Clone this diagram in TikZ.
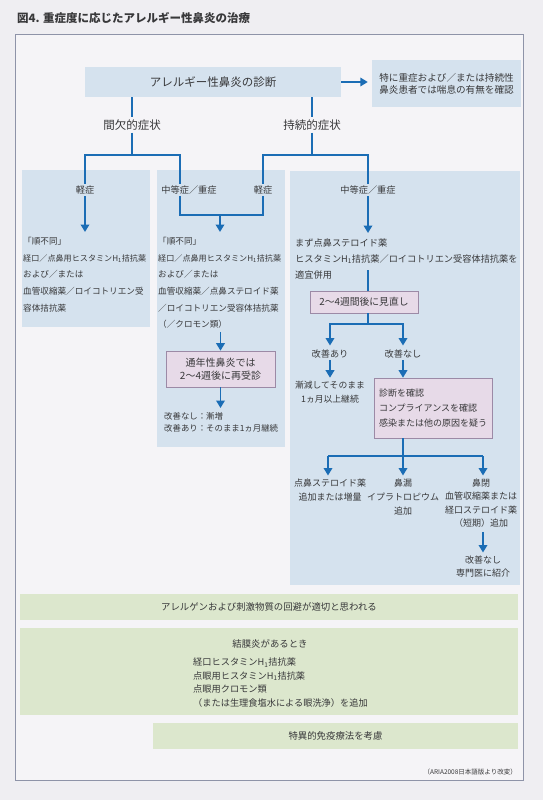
\documentclass[tikz,border=0pt]{standalone}
\usepackage{fontspec}
\setmainfont{Noto Sans CJK JP}
\usetikzlibrary{arrows.meta}
\definecolor{lineblue}{HTML}{1B6DB5}
\definecolor{colfill}{HTML}{D5E2EE}
\definecolor{pinkfill}{HTML}{E7DAE8}
\definecolor{pinkline}{HTML}{9C8AA6}
\definecolor{greenfill}{HTML}{DCE7CD}
\definecolor{ink}{HTML}{38383A}
\definecolor{paper}{HTML}{EFEEF2}
\definecolor{panel}{HTML}{F5F4F7}
\definecolor{framecol}{HTML}{8E93A8}
\begin{document}
\begin{tikzpicture}[x=1pt,y=-1pt,
	link/.style={draw=lineblue,line width=1.8pt},
	arr/.style={link,-{Triangle[width=8.5pt,length=7.5pt]}},
	lbl/.style={text=ink,inner sep=2pt,font=\fontsize{9.2}{14}\selectfont},
	bigl/.style={text=ink,inner sep=2pt,font=\fontsize{11.5}{13}\selectfont},
	listtxt/.style={text=ink,inner sep=0pt,anchor=base west,align=left},
	pinkbox/.style={draw=pinkline,fill=pinkfill,line width=0.6pt,text=ink,inner sep=0pt},
	bluebox/.style={fill=colfill,text=ink,inner sep=0pt},
	greenbox/.style={fill=greenfill,text=ink,inner sep=0pt,minimum height=26pt,font=\fontsize{9.4}{13.7}\selectfont}]
	\useasboundingbox (0,0) rectangle (543,800);
	\fill[paper] (0,0) rectangle (543,800);
	\filldraw[fill=panel,draw=framecol,line width=0.8pt] (15,34) rectangle (523,780);
	\node[anchor=west,inner sep=0pt,font=\fontsize{11.5}{13}\selectfont\bfseries,text=ink] (title) at (17,18) {図4. 重症度に応じたアレルギー性鼻炎の治療};
	\fill[colfill] (22,170) rectangle (150,327);
	\fill[colfill] (157,170) rectangle (285,447);
	\fill[colfill] (290,171) rectangle (520,585);
	\node[bluebox,minimum width=256pt,minimum height=30pt,font=\fontsize{11.5}{13}\selectfont] (diag) at (213,82) {アレルギー性鼻炎の診断};
	\node[bluebox,minimum width=149pt,minimum height=47pt,align=left,font=\fontsize{9.6}{12}\selectfont] (asthma) at (446.5,83.5) {特に重症および／または持続性\\鼻炎患者では喘息の有無を確認};
	\draw[arr,shorten >=4pt] (diag.east) -- (diag.east -| asthma.west);
	\node[bigl] (inter) at (132,125) {間欠的症状};
	\node[bigl] (persist) at (312,125) {持続的症状};
	\draw[link] (diag.south -| inter) -- (inter);
	\draw[link] (diag.south -| persist) -- (persist);
	\coordinate (iL) at (85,155);
	\coordinate (iR) at (180,155);
	\coordinate (pL) at (263,155);
	\coordinate (pR) at (368,155);
	\draw[link] (inter) -- (inter |- iL);
	\draw[link] (persist) -- (persist |- pL);
	\node[lbl] (mildA) at (85,190) {軽症};
	\node[lbl] (modA) at (189,190) {中等症／重症};
	\node[lbl] (mildB) at (263,190) {軽症};
	\node[lbl] (modB) at (368,190) {中等症／重症};
	\draw[link] (mildA) -- (iL) -- (iR) -- (iR |- modA.north);
	\draw[link] (mildB) -- (pL) -- (pR) -- (modB);
	\coordinate (mA) at (85,232);
	\draw[arr] (mildA) -- (mA);
	\coordinate (mj) at (220,215);
	\draw[link] (iR |- modA.south) -- (iR |- mj) -- (mildB |- mj) -- (mildB);
	\coordinate (mjEnd) at (220,232);
	\draw[arr] (mj) -- (mjEnd);
	\node[listtxt,font=\fontsize{8.6}{16.7}\selectfont] (leftlist) at (23,311.1) {「順不同」\\{\fontsize{8.1}{16.7}\selectfont 経口／点鼻用ヒスタミンH\textsubscript{1}拮抗薬}\\および／または\\血管収縮薬／ロイコトリエン受\\容体拮抗薬};
	\node[listtxt,font=\fontsize{8.6}{16.7}\selectfont] (midlist) at (158,327.8) {「順不同」\\{\fontsize{8.1}{16.7}\selectfont 経口／点鼻用ヒスタミンH\textsubscript{1}拮抗薬}\\および／または\\血管収縮薬／点鼻ステロイド薬\\／ロイコトリエン受容体拮抗薬\\（／クロモン類）};
	\node[pinkbox,minimum width=109pt,minimum height=36pt,align=center,font=\fontsize{10}{13}\selectfont] (revisit) at (220.5,369) {通年性鼻炎では\\2～4週後に再受診};
	\draw[arr,shorten <=3pt] (revisit |- midlist.south) -- (revisit);
	\coordinate (revEnd) at (220.5,408);
	\draw[arr] (revisit) -- (revEnd);
	\node[listtxt,font=\fontsize{8.4}{12}\selectfont] (midout) at (164,431.2) {改善なし：漸増\\改善あり：そのまま1ヵ月継続};
	\coordinate (rA) at (368,233);
	\draw[arr] (modB) -- (rA);
	\node[listtxt,font=\fontsize{9.2}{16}\selectfont] (rightlist) at (295,278.4) {まず点鼻ステロイド薬\\ヒスタミンH\textsubscript{1}拮抗薬／ロイコトリエン受容体拮抗薬を\\適宜併用};
	\node[pinkbox,minimum width=108pt,minimum height=22pt,font=\fontsize{9.8}{12}\selectfont] (review) at (364,302) {2～4週間後に見直し};
	\coordinate (rv) at (368,270);
	\draw[link] (rv) -- (rv |- review.north);
	\coordinate (rj) at (368,324);
	\draw[link] (rj |- review.south) -- (rj);
	\node[lbl] (better) at (330,354) {改善あり};
	\node[lbl] (nobetter) at (403,354) {改善なし};
	\draw[arr,shorten >=2pt] (rj) -| (better);
	\draw[arr,shorten >=2pt] (rj) -| (nobetter);
	\node[lbl,align=center,font=\fontsize{8.8}{14}\selectfont] (taper) at (330,392) {漸減してそのまま\\1ヵ月以上継続};
	\draw[arr,shorten >=1pt] (better) -- (taper);
	\node[pinkbox,minimum width=118pt,minimum height=60pt,align=left,font=\fontsize{9}{15}\selectfont] (recheck) at (433,408) {診断を確認\\コンプライアンスを確認\\感染または他の原因を疑う};
	\draw[arr] (nobetter) -- (nobetter |- recheck.north);
	\coordinate (sL) at (328,456);
	\coordinate (sj) at (403,456);
	\coordinate (sR) at (483,456);
	\draw[link] (recheck.south -| sj) -- (sj);
	\draw[link] (sL) -- (sR);
	\node[lbl,anchor=base,align=center,font=\fontsize{9}{14}\selectfont] (addster) at (330,500.3) {点鼻ステロイド薬\\追加または増量};
	\node[lbl,anchor=base,align=center,font=\fontsize{9}{14}\selectfont] (rhino) at (403,514.3) {鼻漏\\イプラトロピウム\\追加};
	\node[lbl,anchor=base,align=center,font=\fontsize{9}{13.5}\selectfont] (block) at (481,526.8) {鼻閉\\血管収縮薬または\\経口ステロイド薬\\（短期）追加};
	\draw[arr,shorten >=1pt] (sL) -- (sL |- addster.north);
	\draw[arr,shorten >=1pt] (sj) -- (sj |- rhino.north);
	\draw[arr,shorten >=1pt] (sR) -- (sR |- block.north);
	\node[lbl,anchor=base,align=center,font=\fontsize{9}{13.5}\selectfont] (refer) at (483,576.8) {改善なし\\専門医に紹介};
	\draw[arr,shorten <=2pt,shorten >=1pt] (block.south -| refer) -- (refer);
	\node[greenbox,minimum width=498pt] (avoid) at (269,607) {アレルゲンおよび刺激物質の回避が適切と思われる};
	\fill[greenfill] (20,628) rectangle (518,715);
	\node[lbl,font=\fontsize{9.4}{12}\selectfont] (conj) at (270,644) {結膜炎があるとき};
	\node[listtxt,font=\fontsize{9.2}{13.7}\selectfont] (conjlist) at (193,706.6) {経口ヒスタミンH\textsubscript{1}拮抗薬\\点眼用ヒスタミンH\textsubscript{1}拮抗薬\\点眼用クロモン類\\（または生理食塩水による眼洗浄）を追加};
	\node[greenbox,minimum width=365pt] (immuno) at (335.5,736) {特異的免疫療法を考慮};
	\node[anchor=east,inner sep=0pt,text=ink,font=\fontsize{6.5}{8}\selectfont] (source) at (517,772) {（ARIA2008日本語版より改変）};
\end{tikzpicture}
\end{document}
